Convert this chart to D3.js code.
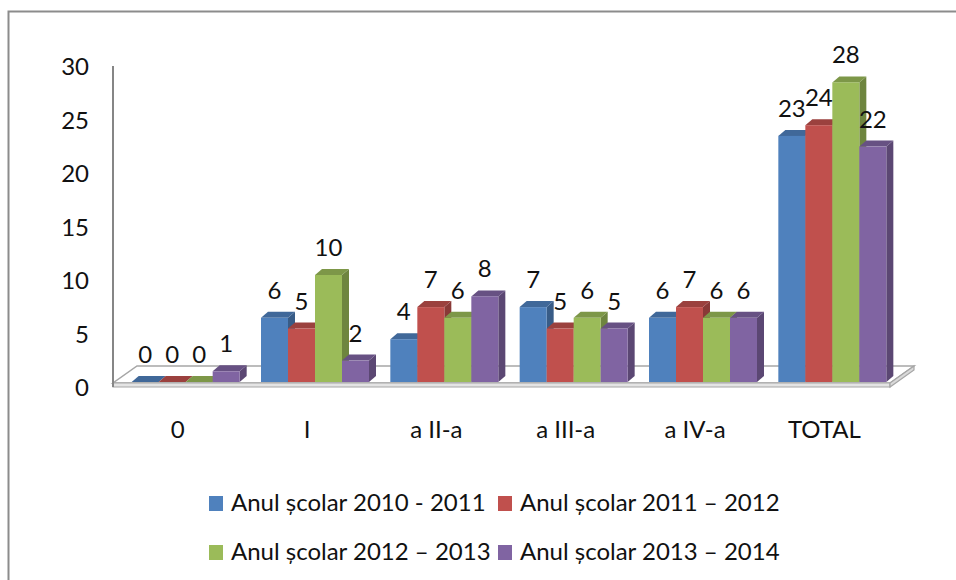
<!DOCTYPE html>
<html>
<head>
<meta charset="utf-8">
<script src="https://cdn.jsdelivr.net/npm/d3@7"></script>
<style>
  body { margin: 0; background: #fff; }
  svg text { font-family: Lato, "Open Sans", sans-serif; fill: #111; }
</style>
</head>
<body>
<div id="chart"></div>
<script>
const categories = ["0", "I", "a II-a", "a III-a", "a IV-a", "TOTAL"];
const seriesNames = [
  "Anul școlar 2010 - 2011",
  "Anul școlar 2011 – 2012",
  "Anul școlar 2012 – 2013",
  "Anul școlar 2013 – 2014"
];
const values2010 = [0, 6, 4, 7, 6, 23];
const values2011 = [0, 5, 7, 5, 7, 24];
const values2012 = [0, 10, 6, 6, 6, 28];
const values2013 = [1, 2, 8, 5, 6, 22];
const yTicks = [0, 5, 10, 15, 20, 25, 30];
const seriesColors = ["#4F81BD", "#C0504D", "#9BBB59", "#8064A2"];

const allValues = [values2010, values2011, values2012, values2013];

const width = 956, height = 580;
const fontSize = 24;

// depth offsets (pseudo 3D)
const planeDx = 8, planeDy = -5;     // bars sit a bit behind the front plane
const barDx = 7, barDy = -6;         // depth of each bar
const floorDx = 24, floorDy = -17;   // depth of the floor

const svg = d3.select("#chart")
  .append("svg")
  .attr("width", width)
  .attr("height", height);

// chart border
svg.append("rect")
  .attr("x", 8.5).attr("y", 11.5)
  .attr("width", 980).attr("height", 600)
  .attr("fill", "#fff")
  .attr("stroke", "#8c8c8c")
  .attr("stroke-width", 2);

const x_scale = d3.scaleBand()
  .domain(categories)
  .range([113, 889]);

const series_scale = d3.scaleBand()
  .domain(seriesNames)
  .range([0, 108]);

const y_bar = d3.scaleLinear().domain([0, 30]).range([387 + planeDy, 61]);
const y_axis = d3.scaleLinear().domain([0, 30]).range([388, 67]);

// floor
const fx0 = 113, fx1 = 890, fy = 383;
svg.append("path")
  .attr("d", `M${fx0},${fy} L${fx1},${fy} L${fx1 + floorDx},${fy + floorDy} L${fx0 + floorDx},${fy + floorDy} Z`)
  .attr("fill", "#fff")
  .attr("stroke", "#a6a6a6")
  .attr("stroke-width", 1.5);
svg.append("path")
  .attr("d", `M${fx0},${fy} L${fx1},${fy} L${fx1},${fy + 4} L${fx0},${fy + 4} Z`)
  .attr("fill", "#e4e4e4")
  .attr("stroke", "#a6a6a6")
  .attr("stroke-width", 1.2);
svg.append("path")
  .attr("d", `M${fx1},${fy} L${fx1 + floorDx},${fy + floorDy} L${fx1 + floorDx},${fy + floorDy + 4} L${fx1},${fy + 4} Z`)
  .attr("fill", "#d9d9d9")
  .attr("stroke", "#a6a6a6")
  .attr("stroke-width", 1.2);

// value axis line
svg.append("line")
  .attr("x1", 113).attr("x2", 113)
  .attr("y1", 66).attr("y2", 387)
  .attr("stroke", "#868686")
  .attr("stroke-width", 2);

// y axis labels
const yAxis = d3.axisLeft(y_axis).tickValues(yTicks).tickSize(0).tickPadding(0);
const yg = svg.append("g")
  .attr("transform", "translate(89,0)")
  .call(yAxis);
yg.select(".domain").remove();
yg.selectAll("text")
  .style("font-size", fontSize + "px")
  .style("font-family", "Lato, sans-serif")
  .attr("fill", "#111");

// x axis labels
const xAxis = d3.axisBottom(x_scale).tickSize(0).tickPadding(0);
const xg = svg.append("g")
  .attr("transform", "translate(0,421)")
  .call(xAxis);
xg.select(".domain").remove();
xg.selectAll("text")
  .style("font-size", fontSize + "px")
  .style("font-family", "Lato, sans-serif")
  .attr("fill", "#111");

// bar data
const bars = [];
categories.forEach((cat, ci) => {
  seriesNames.forEach((s, si) => {
    bars.push({ cat: cat, series: s, si: si, value: allValues[si][ci] });
  });
});

const groupOffset = (x_scale.bandwidth() - 108) / 2 + planeDx;
const barW = series_scale.bandwidth();

function barX(d) { return x_scale(d.cat) + groupOffset + series_scale(d.series); }

const barG = svg.selectAll(".bar")
  .data(bars)
  .join("g")
  .attr("class", "bar");

// side face
barG.append("path")
  .attr("d", d => {
    const x1 = barX(d) + barW, yb = y_bar(0), yt = y_bar(d.value);
    return `M${x1},${yb} L${x1 + barDx},${yb + barDy} L${x1 + barDx},${yt + barDy} L${x1},${yt} Z`;
  })
  .attr("fill", d => d3.color(seriesColors[d.si]).darker(0.95));

// top face
barG.append("path")
  .attr("d", d => {
    const x0 = barX(d), yt = y_bar(d.value);
    return `M${x0},${yt} L${x0 + barW},${yt} L${x0 + barW + barDx},${yt + barDy} L${x0 + barDx},${yt + barDy} Z`;
  })
  .attr("fill", d => d3.color(seriesColors[d.si]).darker(0.6));

// front face
barG.append("rect")
  .attr("x", d => barX(d))
  .attr("y", d => y_bar(d.value))
  .attr("width", barW)
  .attr("height", d => y_bar(0) - y_bar(d.value))
  .attr("fill", d => seriesColors[d.si]);

// value labels
svg.selectAll(".val")
  .data(bars)
  .join("text")
  .attr("class", "val")
  .attr("x", d => barX(d) + barW / 2)
  .attr("y", d => y_bar(d.value) - 19)
  .attr("text-anchor", "middle")
  .style("font-size", fontSize + "px")
  .text(d => d.value);

// legend
const legendX = [209, 498];
const legendY = [503, 552];
const legend = svg.selectAll(".legend")
  .data(seriesNames)
  .join("g")
  .attr("class", "legend")
  .attr("transform", (d, i) => `translate(${legendX[i % 2]},${legendY[Math.floor(i / 2)]})`);

legend.append("rect")
  .attr("x", 0).attr("y", -7)
  .attr("width", 14).attr("height", 15)
  .attr("fill", (d, i) => seriesColors[i]);

legend.append("text")
  .attr("x", 22)
  .attr("y", 8)
  .style("font-size", fontSize + "px")
  .text(d => d);
</script>
</body>
</html>
